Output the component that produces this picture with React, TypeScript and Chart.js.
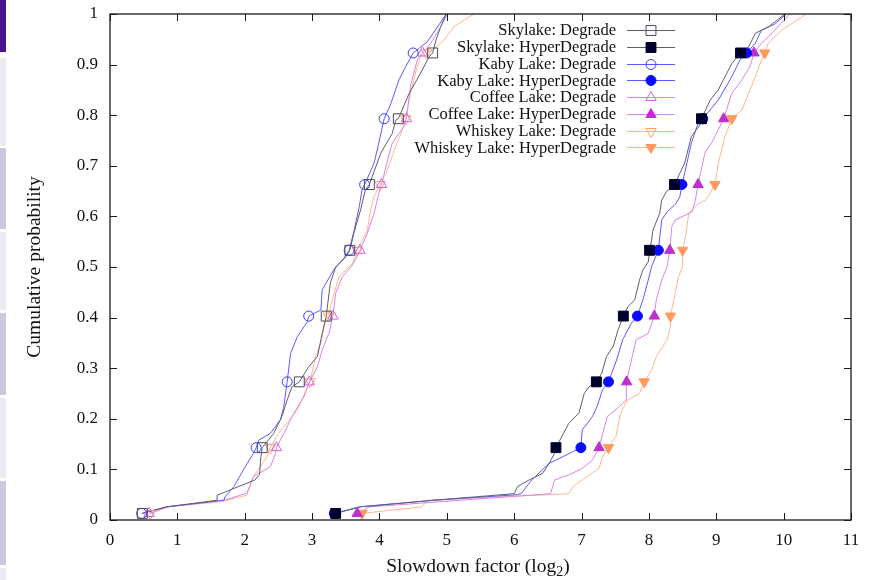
import React, { useEffect, useRef } from 'react';
import { Chart, registerables } from 'chart.js';

Chart.register(...registerables);

// ---------- data ----------
const xTickValues = [0, 1, 2, 3, 4, 5, 6, 7, 8, 9, 10, 11];
const yTickValues = [0, 0.1, 0.2, 0.3, 0.4, 0.5, 0.6, 0.7, 0.8, 0.9, 1];
const markLevels = [0.013, 0.143, 0.273, 0.403, 0.533, 0.663, 0.793, 0.923];

const seriesNames = [
  'Skylake: Degrade',
  'Skylake: HyperDegrade',
  'Kaby Lake: Degrade',
  'Kaby Lake: HyperDegrade',
  'Coffee Lake: Degrade',
  'Coffee Lake: HyperDegrade',
  'Whiskey Lake: Degrade',
  'Whiskey Lake: HyperDegrade',
];

const skylakeDegrade: [number, number][] = [
  [0.48, 0.013], [0.84, 0.026], [1.59, 0.039], [1.59, 0.049], [2.15, 0.079], [2.22, 0.09], [2.24, 0.125],
  [2.26, 0.143], [2.43, 0.171], [2.55, 0.204], [2.63, 0.237], [2.70, 0.263], [2.81, 0.273], [2.95, 0.303],
  [3.08, 0.323], [3.15, 0.369], [3.21, 0.403], [3.27, 0.468], [3.35, 0.5], [3.50, 0.52], [3.56, 0.533],
  [3.62, 0.567], [3.72, 0.613], [3.79, 0.652], [3.85, 0.663], [4.02, 0.725], [4.19, 0.764], [4.24, 0.79],
  [4.28, 0.793], [4.44, 0.843], [4.61, 0.883], [4.74, 0.916], [4.79, 0.923], [4.84, 0.949], [4.91, 0.975],
  [4.99, 1.0],
];
const skylakeHyper: [number, number][] = [
  [3.35, 0.013], [3.72, 0.026], [4.80, 0.039], [6.00, 0.052], [6.05, 0.066], [6.22, 0.079], [6.42, 0.092],
  [6.52, 0.112], [6.60, 0.132], [6.62, 0.143], [6.81, 0.191], [6.96, 0.211], [7.04, 0.25], [7.11, 0.263],
  [7.22, 0.273], [7.30, 0.29], [7.37, 0.323], [7.47, 0.343], [7.54, 0.375], [7.62, 0.403], [7.69, 0.422],
  [7.79, 0.435], [7.86, 0.474], [7.91, 0.494], [7.99, 0.51], [8.01, 0.533], [8.04, 0.553], [8.06, 0.573],
  [8.16, 0.606], [8.19, 0.632], [8.26, 0.649], [8.38, 0.663], [8.53, 0.705], [8.63, 0.758], [8.76, 0.781],
  [8.78, 0.793], [8.91, 0.83], [9.03, 0.85], [9.13, 0.876], [9.23, 0.902], [9.36, 0.923], [9.48, 0.935],
  [9.58, 0.962], [9.78, 0.975], [10.02, 1.0],
];
const kabyDegrade: [number, number][] = [
  [0.47, 0.013], [0.84, 0.026], [1.69, 0.039], [1.71, 0.046], [1.84, 0.066], [1.98, 0.099], [2.13, 0.132],
  [2.17, 0.143], [2.21, 0.158], [2.38, 0.171], [2.53, 0.198], [2.58, 0.224], [2.63, 0.273], [2.68, 0.329],
  [2.78, 0.362], [2.93, 0.392], [2.95, 0.403], [3.13, 0.415], [3.15, 0.455], [3.32, 0.494], [3.47, 0.517],
  [3.55, 0.533], [3.62, 0.57], [3.70, 0.619], [3.74, 0.652], [3.78, 0.663], [3.92, 0.705], [3.99, 0.745],
  [4.07, 0.793], [4.17, 0.823], [4.29, 0.87], [4.39, 0.896], [4.50, 0.923], [4.71, 0.945], [4.89, 0.98],
  [4.99, 1.0],
];
const kabyHyper: [number, number][] = [
  [3.33, 0.013], [3.70, 0.026], [4.80, 0.039], [6.05, 0.05], [6.11, 0.053], [6.26, 0.079], [6.52, 0.112],
  [6.72, 0.125], [6.87, 0.135], [6.99, 0.143], [7.01, 0.178], [7.16, 0.204], [7.23, 0.224], [7.31, 0.257],
  [7.40, 0.273], [7.52, 0.316], [7.61, 0.356], [7.74, 0.389], [7.83, 0.403], [7.91, 0.435], [7.99, 0.474],
  [8.04, 0.501], [8.14, 0.533], [8.19, 0.593], [8.27, 0.609], [8.40, 0.625], [8.46, 0.639], [8.49, 0.663],
  [8.53, 0.685], [8.63, 0.745], [8.73, 0.784], [8.80, 0.793], [9.03, 0.83], [9.23, 0.876], [9.35, 0.909],
  [9.45, 0.923], [9.58, 0.942], [9.67, 0.968], [9.87, 0.98], [10.04, 1.0],
];
const coffeeDegrade: [number, number][] = [
  [0.58, 0.013], [0.86, 0.026], [1.72, 0.04], [2.03, 0.053], [2.13, 0.086], [2.38, 0.105], [2.46, 0.132],
  [2.47, 0.143], [2.58, 0.171], [2.73, 0.211], [2.88, 0.244], [2.96, 0.273], [3.08, 0.303], [3.15, 0.336],
  [3.25, 0.369], [3.31, 0.403], [3.35, 0.448], [3.45, 0.481], [3.60, 0.504], [3.71, 0.533], [3.82, 0.567],
  [3.92, 0.606], [3.99, 0.645], [4.03, 0.663], [4.12, 0.711], [4.19, 0.745], [4.36, 0.777], [4.40, 0.793],
  [4.46, 0.857], [4.56, 0.909], [4.64, 0.923], [4.76, 0.942], [4.91, 0.975], [5.01, 1.0],
];
const coffeeHyper: [number, number][] = [
  [3.67, 0.013], [3.85, 0.026], [5.20, 0.039], [6.54, 0.052], [6.60, 0.079], [6.81, 0.089], [7.01, 0.102],
  [7.16, 0.118], [7.23, 0.135], [7.26, 0.143], [7.38, 0.204], [7.56, 0.224], [7.66, 0.237], [7.66, 0.263],
  [7.67, 0.273], [7.74, 0.316], [7.81, 0.356], [7.99, 0.369], [8.08, 0.403], [8.11, 0.435], [8.19, 0.474],
  [8.27, 0.501], [8.31, 0.533], [8.34, 0.58], [8.39, 0.593], [8.64, 0.609], [8.69, 0.632], [8.73, 0.663],
  [8.83, 0.725], [8.93, 0.745], [9.05, 0.777], [9.11, 0.793], [9.23, 0.843], [9.38, 0.87], [9.50, 0.896],
  [9.56, 0.923], [9.67, 0.942], [9.87, 0.968], [10.09, 1.0],
];
const whiskeyDegrade: [number, number][] = [
  [0.60, 0.013], [0.86, 0.026], [1.64, 0.036], [2.03, 0.049], [2.13, 0.086], [2.33, 0.125], [2.38, 0.143],
  [2.50, 0.171], [2.78, 0.217], [2.93, 0.263], [2.97, 0.273], [3.05, 0.323], [3.13, 0.349], [3.20, 0.395],
  [3.24, 0.403], [3.30, 0.435], [3.40, 0.481], [3.60, 0.507], [3.67, 0.533], [3.82, 0.573], [3.87, 0.613],
  [3.92, 0.639], [4.01, 0.663], [4.12, 0.692], [4.22, 0.731], [4.32, 0.764], [4.39, 0.793], [4.46, 0.843],
  [4.56, 0.896], [4.61, 0.916], [4.70, 0.923], [4.80, 0.93], [4.96, 0.949], [5.11, 0.975], [5.40, 1.0],
];
const whiskeyHyper: [number, number][] = [
  [3.74, 0.013], [4.63, 0.026], [4.72, 0.039], [6.81, 0.052], [6.87, 0.066], [7.26, 0.102], [7.31, 0.125],
  [7.40, 0.143], [7.51, 0.165], [7.58, 0.211], [7.68, 0.237], [7.86, 0.25], [7.93, 0.273], [8.04, 0.296],
  [8.11, 0.323], [8.27, 0.356], [8.32, 0.382], [8.32, 0.403], [8.39, 0.448], [8.44, 0.481], [8.50, 0.501],
  [8.50, 0.533], [8.56, 0.573], [8.59, 0.606], [8.71, 0.623], [8.84, 0.632], [8.88, 0.639], [8.98, 0.663],
  [9.03, 0.705], [9.13, 0.758], [9.23, 0.793], [9.38, 0.81], [9.48, 0.843], [9.58, 0.876], [9.67, 0.909],
  [9.72, 0.923], [9.77, 0.942], [9.97, 0.968], [10.34, 1.0],
];

const seriesData = [
  skylakeDegrade, skylakeHyper, kabyDegrade, kabyHyper,
  coffeeDegrade, coffeeHyper, whiskeyDegrade, whiskeyHyper,
];

// ---------- styles ----------
type Style = { line: string; mark: string; shape: 'rect' | 'circle' | 'triangle'; rot: number; filled: boolean };
const styles: Style[] = [
  { line: '#5e5e70', mark: '#4a4a5c', shape: 'rect', rot: 0, filled: false },
  { line: '#5e5e70', mark: '#00002e', shape: 'rect', rot: 0, filled: true },
  { line: '#5a5aff', mark: '#3a3aff', shape: 'circle', rot: 0, filled: false },
  { line: '#5a5aff', mark: '#0a0aff', shape: 'circle', rot: 0, filled: true },
  { line: '#d884e8', mark: '#cf62dd', shape: 'triangle', rot: 0, filled: false },
  { line: '#d884e8', mark: '#bf2fcc', shape: 'triangle', rot: 0, filled: true },
  { line: '#ffb690', mark: '#ffa070', shape: 'triangle', rot: 180, filled: false },
  { line: '#ffb690', mark: '#ff9a5c', shape: 'triangle', rot: 180, filled: true },
];
const radiusFor = (s: Style) => (s.shape === 'rect' ? 7 : s.shape === 'circle' ? 5 : 6);

const SERIF = '"Liberation Serif", "Times New Roman", serif';

function drawMarker(ctx: CanvasRenderingContext2D, s: Style, x: number, y: number) {
  const r = radiusFor(s);
  ctx.save();
  ctx.beginPath();
  if (s.shape === 'rect') {
    const h = r * Math.SQRT1_2;
    ctx.rect(x - h, y - h, 2 * h, 2 * h);
  } else if (s.shape === 'circle') {
    ctx.arc(x, y, r, 0, Math.PI * 2);
  } else {
    const dir = s.rot === 180 ? -1 : 1;
    ctx.moveTo(x, y - dir * r);
    ctx.lineTo(x + r * Math.sin(Math.PI * 2 / 3), y + dir * r * 0.5);
    ctx.lineTo(x - r * Math.sin(Math.PI * 2 / 3), y + dir * r * 0.5);
    ctx.closePath();
  }
  if (s.filled) {
    ctx.fillStyle = s.mark;
    ctx.fill();
  }
  ctx.strokeStyle = s.mark;
  ctx.lineWidth = 1;
  ctx.stroke();
  ctx.restore();
}

const framePlugin = {
  id: 'gnuplotFrame',
  afterDraw(chart: any) {
    const { ctx, chartArea: a, scales } = chart;
    const xs = scales.x;
    const ys = scales.y;
    ctx.save();
    // border
    ctx.strokeStyle = '#1a1a1a';
    ctx.lineWidth = 1.3;
    ctx.strokeRect(a.left, a.top, a.right - a.left, a.bottom - a.top);
    // inward ticks on all sides
    ctx.lineWidth = 1;
    ctx.beginPath();
    const tl = 7;
    xTickValues.forEach((v) => {
      const px = Math.round(xs.getPixelForValue(v)) + 0.5;
      ctx.moveTo(px, a.bottom);
      ctx.lineTo(px, a.bottom - tl);
      ctx.moveTo(px, a.top);
      ctx.lineTo(px, a.top + tl);
    });
    yTickValues.forEach((v) => {
      const py = Math.round(ys.getPixelForValue(v)) + 0.5;
      ctx.moveTo(a.left, py);
      ctx.lineTo(a.left + tl, py);
      ctx.moveTo(a.right, py);
      ctx.lineTo(a.right - tl, py);
    });
    ctx.stroke();

    // legend
    ctx.font = `16.5px ${SERIF}`;
    ctx.textAlign = 'right';
    ctx.textBaseline = 'middle';
    seriesNames.forEach((name, i) => {
      const y = 30 + i * 16.75;
      const s = styles[i];
      ctx.fillStyle = '#111';
      ctx.fillText(name, 616, y + 1);
      ctx.strokeStyle = s.line;
      ctx.lineWidth = 1;
      ctx.beginPath();
      ctx.moveTo(627, Math.round(y) + 0.5);
      ctx.lineTo(675, Math.round(y) + 0.5);
      ctx.stroke();
      drawMarker(ctx, s, 651, Math.round(y) + 0.5);
    });

    // y title
    ctx.fillStyle = '#111';
    ctx.font = `19.5px ${SERIF}`;
    ctx.textAlign = 'center';
    ctx.textBaseline = 'middle';
    ctx.save();
    ctx.translate(35, 267);
    ctx.rotate(-Math.PI / 2);
    ctx.fillText('Cumulative probability', 0, 0);
    ctx.restore();

    // x title with subscript
    const main1 = 'Slowdown factor (log';
    const sub = '2';
    const main2 = ')';
    ctx.font = `19.5px ${SERIF}`;
    const w1 = ctx.measureText(main1).width;
    const w3 = ctx.measureText(main2).width;
    ctx.font = `14px ${SERIF}`;
    const w2 = ctx.measureText(sub).width;
    const total = w1 + w2 + w3;
    let x0 = 478 - total / 2;
    const base = 572;
    ctx.textAlign = 'left';
    ctx.textBaseline = 'alphabetic';
    ctx.font = `19.5px ${SERIF}`;
    ctx.fillText(main1, x0, base);
    x0 += w1;
    ctx.font = `14px ${SERIF}`;
    ctx.fillText(sub, x0, base + 4);
    x0 += w2;
    ctx.font = `19.5px ${SERIF}`;
    ctx.fillText(main2, x0, base);
    ctx.restore();
  },
};

export default function App() {
  const ref = useRef<HTMLCanvasElement | null>(null);

  useEffect(() => {
    if (!ref.current) return;
    const datasets: any[] = [];
    seriesData.forEach((pts, i) => {
      const s = styles[i];
      datasets.push({
        label: seriesNames[i],
        data: pts.map(([x, y]) => ({ x, y })),
        showLine: true,
        borderColor: s.line,
        borderWidth: 1,
        pointRadius: 0,
        tension: 0,
        order: 2,
      });
      datasets.push({
        label: seriesNames[i] + ' marks',
        data: pts.filter(([, y]) => markLevels.includes(y)).map(([x, y]) => ({ x, y })),
        showLine: false,
        pointStyle: s.shape,
        pointRotation: s.rot,
        pointRadius: radiusFor(s),
        pointBorderWidth: 1,
        pointBorderColor: s.mark,
        pointBackgroundColor: s.filled ? s.mark : 'rgba(0,0,0,0)',
        order: 1,
      });
    });

    const chart = new Chart(ref.current, {
      type: 'scatter',
      data: { datasets },
      options: {
        responsive: false,
        animation: false,
        devicePixelRatio: 1,
        layout: { padding: { top: 14, right: 18, left: 0, bottom: 0 } },
        plugins: { legend: { display: false }, tooltip: { enabled: false } },
        scales: {
          x: {
            type: 'linear',
            min: 0,
            max: 11,
            grid: { display: false, drawTicks: false },
            border: { display: false },
            afterFit: (sc: any) => {
              sc.height = 60;
              sc.paddingLeft = 0;
              sc.paddingRight = 0;
            },
            afterBuildTicks: (sc: any) => { sc.ticks = xTickValues.map((v) => ({ value: v })); },
            ticks: {
              autoSkip: false,
              maxRotation: 0,
              padding: 10,
              color: '#111',
              font: { family: SERIF, size: 17 },
              callback: (v: any) => String(v),
            },
          },
          y: {
            type: 'linear',
            min: 0,
            max: 1,
            grid: { display: false, drawTicks: false },
            border: { display: false },
            afterFit: (sc: any) => {
              sc.width = 110;
              sc.paddingTop = 0;
              sc.paddingBottom = 0;
            },
            afterBuildTicks: (sc: any) => { sc.ticks = yTickValues.map((v) => ({ value: v })); },
            ticks: {
              autoSkip: false,
              padding: 12,
              color: '#111',
              font: { family: SERIF, size: 17 },
              callback: (v: any) => String(Math.round(Number(v) * 10) / 10),
            },
          },
        },
      },
      plugins: [framePlugin],
    });
    return () => chart.destroy();
  }, []);

  const strip = (top: number, height: number, color: string) => (
    <div style={{ position: 'absolute', left: 0, top, width: 6, height, background: color }} />
  );

  return (
    <div style={{ position: 'absolute', left: 0, top: 0, width: 869, height: 580, background: '#fff' }}>
      <canvas ref={ref} width={869} height={580} style={{ position: 'absolute', left: 0, top: 0 }} />
      {strip(0, 52, '#4a148c')}
      {strip(58, 88, '#ebebf1')}
      {strip(148, 81, '#cdc9dc')}
      {strip(232, 78, '#ebebf1')}
      {strip(313, 82, '#cdc9dc')}
      {strip(398, 80, '#ebebf1')}
      {strip(481, 84, '#cdc9dc')}
      {strip(568, 12, '#ebebf1')}
    </div>
  );
}
